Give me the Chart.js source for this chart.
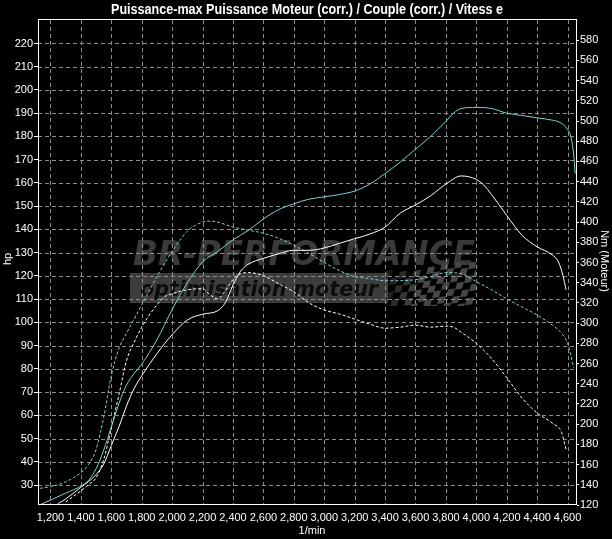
<!DOCTYPE html>
<html><head><meta charset="utf-8">
<script src="https://cdn.jsdelivr.net/npm/chart.js@4"></script>
<style>html,body{margin:0;padding:0;background:#000;overflow:hidden}</style>
</head><body>
<canvas id="c" width="612" height="539" style="width:612px;height:539px;display:block"></canvas>
<script>
const chartTitle = 'Puissance-max Puissance Moteur (corr.) / Couple (corr.) / Vitess e';
const xTitle = '1/min';
const yLeftTitle = 'hp';
const yRightTitle = 'Nm (Moteur)';
const xTicks = [1200,1400,1600,1800,2000,2200,2400,2600,2800,3000,3200,3400,3600,3800,4000,4200,4400,4600];
const hpTicks = [30,40,50,60,70,80,90,100,110,120,130,140,150,160,170,180,190,200,210,220];
const nmTicks = [120,140,160,180,200,220,240,260,280,300,320,340,360,380,400,420,440,460,480,500,520,540,560,580];

// Puissance-max (cyan solid, hp)
const rpmPowerMax = [1130,1200,1300,1400,1450,1500,1550,1600,1650,1700,1750,1800,1900,2000,2100,2200,2300,2400,2500,2600,2700,2800,2900,3000,3100,3200,3300,3400,3500,3600,3700,3800,3850,3900,4000,4100,4200,4300,4400,4500,4550,4600,4625,4640,4650];
const powerMax = [21.5,23.5,26.5,29.5,32,37,45,55,65,73,78,82,92.5,105.5,117,126,130.5,135.5,139.5,144.5,148.5,151,153,154,155,156.5,159.5,164,169,174.5,180,186.5,190,192,192.5,192,190,189,188,187,186,183,179,172,164];

// Puissance Moteur (corr.) (white solid, hp)
const rpmPower = [1250,1300,1400,1450,1500,1550,1600,1650,1700,1750,1800,1900,2000,2100,2200,2300,2350,2400,2450,2500,2600,2700,2800,2900,3000,3100,3200,3300,3400,3500,3600,3700,3800,3900,4000,4050,4100,4200,4300,4400,4500,4540,4570,4590];
const power = [22,24,29,31.5,34.5,39,47,55,64,71.5,77,86.5,94.7,101,103.5,105,108.5,116,122,125,127.5,129.5,131,131,132,134,136,138,141,147,150.5,154.5,159.5,163,161.5,159,155,146,137.5,132.5,129,126,120,114];

// Couple max (cyan dashed, Nm)
const rpmTorqueMax = [1130,1200,1300,1400,1450,1500,1550,1600,1650,1700,1750,1800,1900,2000,2100,2200,2250,2300,2400,2500,2600,2700,2800,2900,3000,3100,3200,3300,3400,3500,3600,3700,3800,3900,4000,4100,4200,4300,4400,4500,4560,4600,4640];
const torqueMax = [136.5,138,143,152,160,175,207,248,275,290,304,318,346,371,391,400,401,400,395,392,389,384,377,369,360,352,346,344,342,342,343,346,350,349,341,333,324,316,308,298,290,280,256];

// Couple (corr.) (white dashed, Nm)
const rpmTorque = [1300,1400,1450,1500,1550,1600,1650,1700,1750,1800,1850,1900,1950,2000,2100,2200,2250,2300,2350,2400,2450,2500,2600,2700,2800,2900,3000,3100,3200,3300,3400,3500,3600,3700,3800,3850,3900,4000,4100,4200,4300,4400,4500,4560,4590];
const torque = [123,134,140,147,165,196,229,263,281,296,308,318,326,329,333,334,328,324,332,343,349,350,347,339,331,320,313,309,304,299,295,296,298,296,297,296,291,280,265,246,226,211,201,192,175];

const FONT = '"Liberation Sans", Arial, sans-serif';
const CYAN = '#7fd0d0';

function pts(xs, ys){ return xs.map((x,i)=>({x:x, y:ys[i]})); }

const bgPlugin = {
  id:'bg',
  beforeDraw(chart){
    const ctx = chart.ctx;
    ctx.save();
    ctx.fillStyle = '#000';
    ctx.fillRect(0,0,chart.width,chart.height);
    // watermark
    ctx.fillStyle = '#3a3a3a';
    ctx.font = 'italic bold 34px "DejaVu Sans"';
    ctx.textBaseline = 'alphabetic';
    let t = 'BR-PERFORMANCE';
    let w = ctx.measureText(t).width;
    ctx.save(); ctx.translate(133, 265); ctx.scale(342/w, 1); ctx.fillText(t, 0, 0); ctx.restore();
    ctx.fillStyle = '#3c3c3c';
    ctx.fillRect(130, 273, 258, 30);
    ctx.fillStyle = '#0c0c0c';
    ctx.font = 'italic bold 22px "DejaVu Sans"';
    t = 'optimisation moteur';
    w = ctx.measureText(t).width;
    ctx.save(); ctx.translate(140, 296); ctx.scale(238/w, 1); ctx.fillText(t, 0, 0); ctx.restore();
    // checkered flag
    ctx.save();
    ctx.beginPath(); ctx.rect(386, 262, 90, 44); ctx.clip();
    ctx.translate(386, 262);
    const s = 7;
    for (let i=0;i<14;i++){
      for (let j=0;j<7;j++){
        if ((i+j)%2===0){
          const wave = Math.sin(i*0.5)*3;
          const a = 0.35 + 0.65*Math.min(1, i/5);
          ctx.fillStyle = 'rgba(70,70,70,'+a.toFixed(2)+')';
          ctx.beginPath();
          const x0 = i*s - j*2, y0 = j*s + wave + (14-i)*0.6;
          ctx.moveTo(x0, y0); ctx.lineTo(x0+s, y0 - 1); ctx.lineTo(x0+s-2, y0+s-1); ctx.lineTo(x0-2, y0+s);
          ctx.closePath(); ctx.fill();
        }
      }
    }
    ctx.restore();
    ctx.restore();
  },
  beforeDatasetsDraw(chart){
    const ctx = chart.ctx, a = chart.chartArea;
    const xs = chart.scales.x, ys = chart.scales.y;
    ctx.save();
    ctx.strokeStyle = '#8c8c8c'; ctx.lineWidth = 1; ctx.setLineDash([4,3]);
    xTicks.forEach(v=>{
      const px = Math.round(xs.getPixelForValue(v)) + 0.5;
      ctx.beginPath(); ctx.moveTo(px, a.top); ctx.lineTo(px, a.bottom); ctx.stroke();
    });
    hpTicks.forEach(v=>{
      const py = Math.round(ys.getPixelForValue(v)) + 0.5;
      ctx.beginPath(); ctx.moveTo(a.left, py); ctx.lineTo(a.right, py); ctx.stroke();
    });
    ctx.restore();
  },
  afterDraw(chart){
    const ctx = chart.ctx, a = chart.chartArea;
    ctx.save();
    ctx.strokeStyle = '#fff'; ctx.lineWidth = 1; ctx.setLineDash([]);
    ctx.strokeRect(Math.round(a.left)+0.5, Math.round(a.top)-0.5, Math.round(a.right-a.left)-1, Math.round(a.bottom-a.top)+0);
    ctx.fillStyle = '#fff';
    ctx.textAlign = 'center'; ctx.textBaseline = 'middle';
    ctx.font = 'bold 14px ' + FONT;
    const tw = ctx.measureText(chartTitle).width;
    ctx.save(); ctx.translate(307, 10); ctx.scale(392/tw, 1); ctx.fillText(chartTitle, 0, 0); ctx.restore();
    ctx.font = '11px ' + FONT;
    ctx.fillText(xTitle, 312, 531);
    ctx.save(); ctx.translate(8, 259); ctx.rotate(-Math.PI/2); ctx.fillText(yLeftTitle, 0, 0); ctx.restore();
    ctx.save(); ctx.translate(604, 261); ctx.rotate(Math.PI/2); ctx.fillText(yRightTitle, 0, 0); ctx.restore();
    ctx.restore();
  }
};

const common = {borderWidth:1, pointRadius:0, fill:false, cubicInterpolationMode:'monotone'};

new Chart(document.getElementById('c'), {
  type:'line',
  data:{
    datasets:[
      Object.assign({label:'Puissance-max', data:pts(rpmPowerMax, powerMax), borderColor:CYAN, yAxisID:'y'}, common),
      Object.assign({label:'Puissance Moteur (corr.)', data:pts(rpmPower, power), borderColor:'#ffffff', yAxisID:'y'}, common),
      Object.assign({label:'Couple max', data:pts(rpmTorqueMax, torqueMax), borderColor:CYAN, borderDash:[3,2], yAxisID:'y2'}, common),
      Object.assign({label:'Couple (corr.)', data:pts(rpmTorque, torque), borderColor:'#ffffff', borderDash:[3,2], yAxisID:'y2'}, common)
    ]
  },
  options:{
    responsive:false, animation:false, devicePixelRatio:1,
    layout:{padding:{top:20, left:0, right:0, bottom:0}},
    plugins:{legend:{display:false}, tooltip:{enabled:false}, title:{display:false}},
    events:[],
    scales:{
      x:{
        type:'linear', min:1118, max:4662,
        afterBuildTicks(ax){ ax.ticks = xTicks.map(v=>({value:v})); },
        afterFit(ax){ ax.height = 34; },
        grid:{display:false, drawTicks:false},
        border:{display:false},
        ticks:{color:'#fff', font:{family:FONT, size:11}, padding:6, maxRotation:0, autoSkip:false,
               callback:(v)=>Number(v).toLocaleString('en-US')}
      },
      y:{
        type:'linear', position:'left', min:21.4, max:230.1,
        afterBuildTicks(ax){ ax.ticks = hpTicks.map(v=>({value:v})); },
        afterFit(ax){ ax.width = 38; },
        grid:{drawOnChartArea:false, drawTicks:true, tickLength:4, tickColor:'#fff'},
        border:{display:false},
        ticks:{color:'#fff', font:{family:FONT, size:11}, padding:1, autoSkip:false}
      },
      y2:{
        type:'linear', position:'right', min:120, max:600,
        afterBuildTicks(ax){ ax.ticks = nmTicks.map(v=>({value:v})); },
        afterFit(ax){ ax.width = 35; },
        grid:{drawOnChartArea:false, drawTicks:true, tickLength:2, tickColor:'#fff'},
        border:{display:false},
        ticks:{color:'#fff', font:{family:FONT, size:11}, padding:1, autoSkip:false}
      }
    }
  },
  plugins:[bgPlugin]
});
</script>
</body></html>
